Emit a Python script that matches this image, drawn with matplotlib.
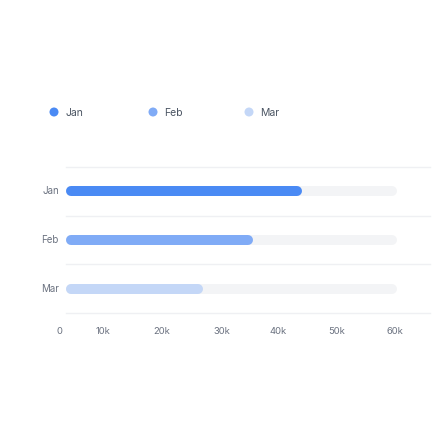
import matplotlib
matplotlib.use("Agg")
import matplotlib.pyplot as plt

# data
months = ["Jan", "Feb", "Mar"]
values = [42700, 33900, 24800]
track_max = 60000
tick_labels = ["0", "10k", "20k", "30k", "40k", "50k", "60k"]
colors = ["#4a8af4", "#80abf6", "#c4d7f7"]

plt.rcParams['font.family'] = ['Inter', 'DejaVu Sans']

W = H = 440
fig = plt.figure(figsize=(4.4, 4.4), dpi=100)
fig.patch.set_facecolor("white")

# bar area: x 66..430 px, y 167..313 px
ax = fig.add_axes([66 / W, 1 - 313 / H, (430 - 66) / W, (313 - 167) / H])
xmax = track_max * (430 - 66) / (397 - 66)
ax.set_xlim(0, xmax)
ax.set_ylim(len(months) - 0.5, -0.5)
ax.axis("off")

px = (430 - 66) / xmax  # pixels per data unit
lw_px = 10
cap = (lw_px / 2) / px
lw_pt = lw_px * 72 / 100

for g in [-0.5, 0.5, 1.5, 2.5]:
    ax.axhline(g, color="#eff0f3", lw=1.0, clip_on=False, zorder=0)

for i, (m, v) in enumerate(zip(months, values)):
    ax.plot([cap, track_max - cap], [i, i], color="#f3f4f6", lw=lw_pt,
            solid_capstyle="round", zorder=1)
    ax.plot([cap, v - cap], [i, i], color=colors[i], lw=lw_pt,
            solid_capstyle="round", zorder=2)
    ax.text(-7 / px, i, m, ha="right", va="center", fontsize=7,
            color="#6b7280")

# x tick labels
tick_px = [59, 103, 162, 222, 278, 337, 395]
for x, t in zip(tick_px, tick_labels):
    fig.text(x / W, 1 - 331 / H, t, ha="center", va="center", fontsize=6.8,
             color="#6b7280")

# legend
lax = fig.add_axes([0, 0, 1, 1])
lax.set_xlim(0, W)
lax.set_ylim(H, 0)
lax.axis("off")
leg_x = [54, 153, 249]
for x, m, c in zip(leg_x, months, colors):
    lax.scatter([x], [112], s=42, color=c, edgecolors="none")
    lax.text(x + 11, 112.5, m, ha="left", va="center", fontsize=7.5,
             color="#4b5563")

fig.savefig("out.png", dpi=100)
